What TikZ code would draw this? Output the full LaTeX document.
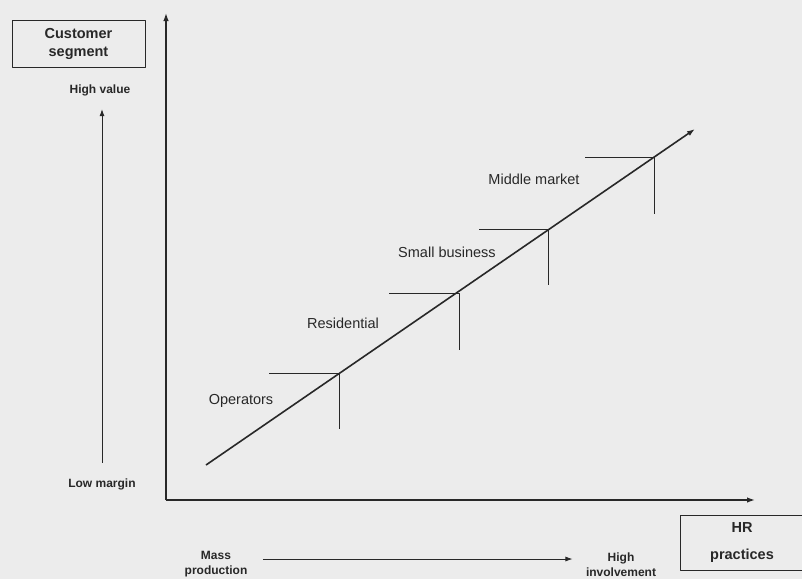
\documentclass[tikz,border=0pt]{standalone}
\usepackage{fontspec}
\setmainfont{Liberation Sans}
\usepackage{tikz}
\usetikzlibrary{arrows,arrows.meta}
\definecolor{paper}{RGB}{236,236,236}
\definecolor{ink}{RGB}{40,40,40}
\tikzset{l/.style={font=\fontsize{14.5}{18}\selectfont}}
\tikzset{b/.style={font=\bfseries\fontsize{14.5}{18}\selectfont, align=center}}
\tikzset{m/.style={font=\bfseries\fontsize{12}{15}\selectfont, align=center}}
\tikzset{stair/.style={line width=1pt}}
\tikzset{tip/.style={-{Latex[length=8pt,width=5.5pt]}}}

\begin{document}
\begin{tikzpicture}[x=1pt, y=-1pt, line join=round, color=ink]
            \fill[paper] (0,0) rectangle (802,579);
            \useasboundingbox (0,0) rectangle (802,579);
            % axes
            \coordinate (o) at (166,500);
            \coordinate (ytop) at (166,13);
            \coordinate (xend) at (755,500);
            \draw[line width=1.4pt,tip] (o) -- (ytop);
            \draw[line width=1.4pt,tip] (o) -- (xend);
            % boxes
            \node[b, draw, line width=1pt, minimum width=133pt, minimum height=47pt, inner sep=0pt] (cs) at (78.5,43.5) {Customer\\segment};
            \node[b, draw, line width=1pt, minimum width=124pt, minimum height=55pt, inner sep=0pt] (hr) at (742,542.5) {HR\\[9pt]practices};
            % side scale
            \node[m] (hv) at (100,90) {High value};
            \node[m] (lm) at (102,484) {Low margin};
            \draw[line width=0.8pt,-{Latex[length=7pt,width=5pt]}, shorten <=12pt, shorten >=10pt] (lm.north) -- (lm.north |- hv.south);
            \node[m] (mp) at (216,564.5) {Mass\\production};
            \node[m] (hi) at (621,565) {High\\involvement};
            \draw[line width=0.8pt,-{Latex[length=7pt,width=5pt]}] ([xshift=12pt,yshift=5.5pt]mp.east) -- ([xshift=-10pt,yshift=6pt]hi.west);
            % diagonal
            \coordinate (d0) at (206,465);
            \coordinate (d1) at (695,129);
            \draw[line width=1.6pt,tip] (d0) -- (d1);
            \coordinate (s1) at (339,373);
            \coordinate (s2) at (459,293);
            \coordinate (s3) at (548,229);
            \coordinate (s4) at (654,157);
            \draw[stair] (s1) ++(-70,0) -- (s1) -- ++(0,56);
            \draw[stair] (s2) ++(-70,0) -- (s2) -- ++(0,57);
            \draw[stair] (s3) ++(-69,0) -- (s3) -- ++(0,56);
            \draw[stair] (s4) ++(-69,0) -- (s4) -- ++(0,57);
            \node[l] (op) at (241,401) {Operators};
            \node[l] (res) at (343,323) {Residential};
            \node[l] (sb) at (447,252) {Small business};
            \node[l] (mm) at (534,179) {Middle market};
          \end{tikzpicture}
\end{document}
